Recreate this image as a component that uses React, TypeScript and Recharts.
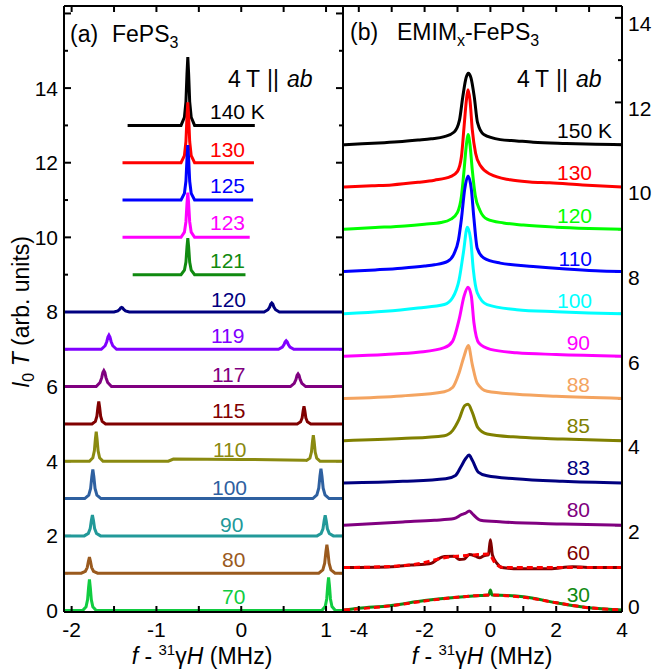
import { LineChart, Line, XAxis, YAxis, ReferenceLine } from "recharts";

type Pt = [number, number];

const FONT = "'Liberation Sans', Arial, sans-serif";

// (a) FePS3 — intensity above each baseline vs f - 31γH (MHz)
const a140: Pt[] = [[-1.34, 0], [-0.71, 0], [-0.67, 0.22], [-0.652, 0.64], [-0.64, 1.37], [-0.63, 1.83], [-0.62, 1.37], [-0.608, 0.64], [-0.59, 0.22], [-0.55, 0], [0.16, 0]];
const a130: Pt[] = [[-1.4, 0], [-0.71, 0], [-0.67, 0.19], [-0.652, 0.57], [-0.64, 1.22], [-0.63, 1.62], [-0.62, 1.22], [-0.608, 0.57], [-0.59, 0.19], [-0.55, 0], [0.15, 0]];
const a125: Pt[] = [[-1.4, 0], [-0.71, 0], [-0.67, 0.18], [-0.652, 0.51], [-0.64, 1.1], [-0.63, 1.47], [-0.62, 1.1], [-0.608, 0.51], [-0.59, 0.18], [-0.55, 0], [0.14, 0]];
const a123: Pt[] = [[-1.4, 0], [-0.71, 0], [-0.67, 0.14], [-0.652, 0.42], [-0.64, 0.9], [-0.63, 1.2], [-0.62, 0.9], [-0.608, 0.42], [-0.59, 0.14], [-0.55, 0], [0.1, 0]];
const a121: Pt[] = [[-1.28, 0], [-0.71, 0], [-0.67, 0.12], [-0.652, 0.34], [-0.64, 0.74], [-0.63, 0.98], [-0.62, 0.74], [-0.608, 0.34], [-0.59, 0.12], [-0.55, 0], [0.05, 0]];
const a120: Pt[] = [[-2.09, 0], [-1.5, 0], [-1.455, 0.03], [-1.435, 0.066], [-1.422, 0.106], [-1.41, 0.12], [-1.398, 0.106], [-1.385, 0.066], [-1.365, 0.03], [-1.32, 0], [0.27, 0], [0.315, 0.06], [0.335, 0.13], [0.348, 0.21], [0.36, 0.24], [0.372, 0.21], [0.385, 0.13], [0.405, 0.06], [0.45, 0], [1.2, 0]];
const a119: Pt[] = [[-2.09, 0], [-1.65, 0], [-1.605, 0.095], [-1.585, 0.21], [-1.572, 0.33], [-1.56, 0.38], [-1.548, 0.33], [-1.535, 0.21], [-1.515, 0.095], [-1.47, 0], [0.44, 0], [0.485, 0.06], [0.505, 0.13], [0.518, 0.2], [0.53, 0.23], [0.542, 0.2], [0.555, 0.13], [0.575, 0.06], [0.62, 0], [1.2, 0]];
const a117: Pt[] = [[-2.09, 0], [-1.71, 0], [-1.665, 0.11], [-1.645, 0.24], [-1.632, 0.38], [-1.62, 0.43], [-1.608, 0.38], [-1.595, 0.24], [-1.575, 0.11], [-1.53, 0], [0.58, 0], [0.625, 0.085], [0.645, 0.19], [0.658, 0.3], [0.67, 0.34], [0.682, 0.3], [0.695, 0.19], [0.715, 0.085], [0.76, 0], [1.2, 0]];
const a115: Pt[] = [[-2.09, 0], [-1.76, 0], [-1.72, 0.07], [-1.702, 0.21], [-1.69, 0.45], [-1.68, 0.6], [-1.67, 0.45], [-1.658, 0.21], [-1.64, 0.07], [-1.6, 0], [0.66, 0], [0.7, 0.056], [0.718, 0.16], [0.73, 0.35], [0.74, 0.47], [0.75, 0.35], [0.762, 0.16], [0.78, 0.056], [0.82, 0], [1.2, 0]];
const a110: Pt[] = [[-2.09, 0], [-1.79, 0], [-1.75, 0.095], [-1.732, 0.28], [-1.72, 0.59], [-1.71, 0.79], [-1.7, 0.59], [-1.688, 0.28], [-1.67, 0.095], [-1.63, 0], [-0.86, 0], [-0.8, 0.06], [0, 0.05], [0.74, 0.03], [0.77, 0.02], [0.81, 0.084], [0.828, 0.245], [0.84, 0.525], [0.85, 0.7], [0.86, 0.525], [0.872, 0.245], [0.89, 0.084], [0.93, 0], [1.2, 0]];
const a100: Pt[] = [[-2.09, 0], [-1.846, 0], [-1.798, 0.094], [-1.776, 0.27], [-1.762, 0.585], [-1.75, 0.78], [-1.738, 0.585], [-1.724, 0.27], [-1.702, 0.094], [-1.654, 0], [0.844, 0], [0.892, 0.096], [0.914, 0.28], [0.928, 0.6], [0.94, 0.8], [0.952, 0.6], [0.966, 0.28], [0.988, 0.096], [1.036, 0], [1.2, 0]];
const a90: Pt[] = [[-2.09, 0], [-1.851, 0], [-1.803, 0.067], [-1.781, 0.196], [-1.767, 0.42], [-1.755, 0.56], [-1.743, 0.42], [-1.729, 0.196], [-1.707, 0.067], [-1.659, 0], [0.894, 0], [0.942, 0.066], [0.964, 0.19], [0.978, 0.41], [0.99, 0.55], [1.002, 0.41], [1.016, 0.19], [1.038, 0.066], [1.086, 0], [1.2, 0]];
const a80: Pt[] = [[-2.09, 0], [-1.886, 0], [-1.838, 0.052], [-1.816, 0.15], [-1.802, 0.32], [-1.79, 0.43], [-1.778, 0.32], [-1.764, 0.15], [-1.742, 0.052], [-1.694, 0], [0.914, 0], [0.962, 0.09], [0.984, 0.27], [0.998, 0.57], [1.01, 0.76], [1.022, 0.57], [1.036, 0.27], [1.058, 0.09], [1.106, 0], [1.2, 0]];
const a70: Pt[] = [[-2.09, 0], [-1.87, 0], [-1.83, 0.1], [-1.812, 0.29], [-1.8, 0.62], [-1.79, 0.83], [-1.78, 0.62], [-1.768, 0.29], [-1.75, 0.1], [-1.71, 0], [0.95, 0], [0.99, 0.107], [1.008, 0.31], [1.02, 0.67], [1.03, 0.89], [1.04, 0.67], [1.052, 0.31], [1.07, 0.107], [1.11, 0], [1.2, 0]];

const leftSpectra = [a140, a130, a125, a123, a121, a120, a119, a117, a115, a110, a100, a90, a80, a70];
const leftLabels = ["140 K", "130", "125", "123", "121", "120", "119", "117", "115", "110", "100", "90", "80", "70"];
const leftOffsets = [13, 12, 11, 10, 9, 8, 7, 6, 5, 4, 3, 2, 1, 0];

// (b) EMIMx-FePS3
const b150: Pt[] = [[-4.45, 0], [-3.9, 0.02], [-3.4, 0.04], [-2.8, 0.07], [-2.2, 0.11], [-1.8, 0.14], [-1.4, 0.19], [-1.1, 0.3], [-0.94, 0.58], [-0.84, 1.13], [-0.74, 1.58], [-0.67, 1.69], [-0.59, 1.58], [-0.49, 1.13], [-0.39, 0.52], [-0.2, 0.24], [0.3, 0.12], [0.8, 0.09], [1.3, 0.06], [2.3, 0.03], [3.2, 0.01], [4, 0]];
const b130: Pt[] = [[-4.45, 0], [-3.6, 0.03], [-3.0, 0.05], [-2.2, 0.11], [-1.7, 0.16], [-1.2, 0.25], [-1.0, 0.37], [-0.88, 0.72], [-0.8, 1.43], [-0.73, 2.05], [-0.68, 2.3], [-0.62, 2.05], [-0.55, 1.35], [-0.45, 0.8], [-0.3, 0.5], [0, 0.3], [0.6, 0.17], [1.2, 0.12], [1.8, 0.1], [2.8, 0.05], [4, 0]];
const b120: Pt[] = [[-4.45, 0], [-3.5, 0.04], [-2.6, 0.08], [-2.0, 0.12], [-1.5, 0.16], [-1.2, 0.24], [-1.0, 0.4], [-0.88, 0.78], [-0.8, 1.4], [-0.73, 2.0], [-0.68, 2.24], [-0.62, 2.0], [-0.55, 1.4], [-0.46, 0.8], [-0.32, 0.45], [-0.1, 0.24], [0.4, 0.15], [1.0, 0.1], [2.0, 0.05], [3.0, 0.02], [4, 0]];
const b110: Pt[] = [[-4.45, 0], [-3.5, 0.04], [-2.7, 0.08], [-2.0, 0.13], [-1.7, 0.16], [-1.3, 0.24], [-1.1, 0.43], [-0.97, 0.75], [-0.88, 1.25], [-0.78, 1.95], [-0.68, 2.26], [-0.58, 1.95], [-0.5, 1.25], [-0.4, 0.55], [-0.2, 0.32], [0.3, 0.2], [1.3, 0.12], [2.3, 0.06], [3.2, 0.02], [4, 0]];
const b100: Pt[] = [[-4.45, 0], [-3.2, 0.06], [-2.2, 0.14], [-1.4, 0.22], [-1.15, 0.38], [-0.95, 0.81], [-0.82, 1.45], [-0.7, 2.05], [-0.6, 1.76], [-0.52, 1.05], [-0.4, 0.5], [-0.1, 0.22], [0.8, 0.1], [2, 0.05], [3, 0.02], [4, 0]];
const b90: Pt[] = [[-4.45, 0], [-3.2, 0.04], [-2.2, 0.09], [-1.4, 0.2], [-1.15, 0.35], [-0.95, 0.87], [-0.8, 1.42], [-0.68, 1.63], [-0.58, 1.42], [-0.5, 0.79], [-0.35, 0.31], [0, 0.16], [0.8, 0.08], [2, 0.04], [4, 0]];
const b88: Pt[] = [[-4.45, 0], [-2.7, 0.06], [-1.4, 0.16], [-1.15, 0.26], [-0.95, 0.61], [-0.8, 1.0], [-0.67, 1.25], [-0.55, 0.8], [-0.4, 0.36], [-0.1, 0.17], [0.8, 0.1], [2, 0.05], [4, 0]];
const b85: Pt[] = [[-4.45, 0], [-2.7, 0.05], [-1.4, 0.12], [-1.15, 0.24], [-0.95, 0.51], [-0.78, 0.83], [-0.68, 0.86], [-0.55, 0.67], [-0.38, 0.31], [-0.1, 0.16], [0.9, 0.08], [2.2, 0.04], [4, 0]];
const b83: Pt[] = [[-4.45, 0], [-2.66, 0.04], [-1.36, 0.1], [-1.06, 0.18], [-0.9, 0.38], [-0.75, 0.58], [-0.65, 0.66], [-0.55, 0.54], [-0.37, 0.26], [-0.1, 0.17], [0.76, 0.1], [2.2, 0.04], [4, 0]];
const b80: Pt[] = [[-4.45, 0], [-2.66, 0.08], [-1.7, 0.12], [-1.1, 0.16], [-0.88, 0.25], [-0.77, 0.28], [-0.64, 0.34], [-0.52, 0.25], [-0.3, 0.12], [0.36, 0.08], [2.2, 0.03], [4, 0]];
const b60: Pt[] = [[-4.45, 0], [-3.0, 0.02], [-2.4, 0.06], [-2.0, 0.08], [-1.8, 0.1], [-1.6, 0.2], [-1.4, 0.26], [-1.1, 0.27], [-0.94, 0.19], [-0.8, 0.2], [-0.64, 0.31], [-0.45, 0.27], [-0.33, 0.23], [-0.2, 0.28], [-0.06, 0.3], [0, 0.66], [0.06, 0.3], [0.2, 0.1], [0.35, 0], [0.88, -0.03], [1.8, -0.03], [2.5, 0.02], [3.2, 0], [4, 0]];
const b30: Pt[] = [[-4.45, 0], [-4, 0.04], [-3.06, 0.1], [-2, 0.22], [-1, 0.3], [-0.3, 0.34], [-0.05, 0.35], [0, 0.47], [0.05, 0.35], [0.5, 0.34], [1, 0.31], [2, 0.17], [2.7, 0.08], [3.5, 0.02], [4, 0]];
const b60fit: Pt[] = [[-4.45, 0], [-3, 0.03], [-2, 0.12], [-1.5, 0.22], [-1, 0.27], [-0.5, 0.3], [-0.05, 0.32], [0.15, 0.1], [0.4, 0], [4, 0]];
const b30fit: Pt[] = [[-4.45, 0], [-3, 0.1], [-2, 0.21], [-1, 0.3], [0, 0.35], [1, 0.3], [2, 0.17], [3, 0.05], [4, 0]];

const rightSpectra = [b150, b130, b120, b110, b100, b90, b88, b85, b83, b80, b60, b30];
const rightFits: (Pt[] | null)[] = [null, null, null, null, null, null, null, null, null, null, b60fit, b30fit];
const rightLabels = ["150 K", "130", "120", "110", "100", "90", "88", "85", "83", "80", "60", "30"];
const rightOffsets = [11, 10, 9, 8, 7, 6, 5, 4, 3, 2, 1, 0];

// ticks: every entry gets an inward mark, only the labelled ones get text
const leftXTicks = [-2, -1.5, -1, -0.5, 0, 0.5, 1];
const leftXLabels = [-2, -1, 0, 1];
const leftYTicks = [0, 1, 2, 3, 4, 5, 6, 7, 8, 9, 10, 11, 12, 13, 14, 15, 16];
const leftYLabels = [0, 2, 4, 6, 8, 10, 12, 14];
const rightXTicks = [-4, -3, -2, -1, 0, 1, 2, 3, 4];
const rightXLabels = [-4, -2, 0, 2, 4];
const rightYTicks = [0, 1, 2, 3, 4, 5, 6, 7, 8, 9, 10, 11, 12, 13, 14];
const rightYLabels = [0, 2, 4, 6, 8, 10, 12, 14];

// styling
const leftColors = ["#000000", "#ff0000", "#0000ff", "#ff00ff", "#108a10", "#000080", "#8000ff", "#800080", "#800000", "#8a8a10", "#2e60a0", "#229999", "#9a5a1e", "#10cc40"];
const rightColors = ["#000000", "#ff0000", "#00ff00", "#0000ff", "#00ffff", "#ff00ff", "#f4a460", "#808000", "#000080", "#800080", "#800000", "#108a10"];
const leftLabelPos: Pt[] = [[210, 119], [210, 157], [210, 193], [210, 230], [210, 268], [211, 307], [211, 343], [212, 382], [212, 418], [213, 457], [212, 495], [220, 532], [222, 567], [222, 604]];
const rightLabelPos: Pt[] = [[612, 138], [592, 180], [592, 223], [592, 266], [592, 308], [590, 350], [590, 392], [590, 433], [590, 475], [590, 517], [590, 560], [590, 602]];

const LX: [number, number] = [-2.09, 1.2];
const LY: [number, number] = [-0.04, 16.2];
const RX: [number, number] = [-4.48, 4];
const RY: [number, number] = [-0.05, 14.28];
// pixels per data unit, used to turn tick-mark lengths into data units
const L_PX: Pt = [84.8, 37.32];
const R_PX: Pt = [32.9, 42.29];

const axisLine = { stroke: "#000", strokeWidth: 2 };
const tickLine = { stroke: "#000", strokeWidth: 2 };
const tickFont = { fill: "#000", fontSize: 21, fontFamily: FONT };
const blank = () => "";

function labelIf(list: number[]) {
  return (v: number) => (list.includes(v) ? String(v) : "");
}

function rows(pts: Pt[], offset: number) {
  return pts.map(([f, v]) => ({ f, v: v + offset }));
}

// inward frame ticks on the left, right and top edges, as short reference segments
function frameTicks(xd: [number, number], yd: [number, number], xt: number[], yt: number[], px: Pt, leftSide: boolean, key: string) {
  const out: JSX.Element[] = [];
  const seg = (id: string, a: Pt, b: Pt) => (
    <ReferenceLine
      key={key + id}
      xAxisId="x"
      yAxisId="y"
      ifOverflow="visible"
      stroke="#000"
      strokeWidth={2}
      segment={[{ x: a[0], y: a[1] }, { x: b[0], y: b[1] }]}
    />
  );
  yt.forEach((v) => {
    const len = (v % 2 === 0 ? 7 : 4) / px[0];
    if (leftSide) out.push(seg("l" + v, [xd[0], v], [xd[0] + len, v]));
    out.push(seg("r" + v, [xd[1] - len, v], [xd[1], v]));
  });
  xt.forEach((v) => {
    out.push(seg("t" + v, [v, yd[1]], [v, yd[1] - 6 / px[1]]));
  });
  return out;
}

function RightTick(props: any) {
  const { x, y, payload } = props;
  if (!rightYLabels.includes(payload.value)) return <g />;
  const shift = payload.value === 0 ? -3 : 6;
  return (
    <text x={x} y={y + shift} dy="0.355em" textAnchor="start" fill="#000" fontSize={21} fontFamily={FONT}>
      {payload.value}
    </text>
  );
}

function LeftPanel() {
  return (
    <LineChart width={350} height={671} margin={{ top: 5, right: 6, left: 24, bottom: 19 }}>
      <XAxis xAxisId="x" dataKey="f" type="number" domain={LX} allowDataOverflow ticks={leftXTicks} interval={0} height={40}
        tickSize={-6} tickMargin={16} tickLine={tickLine} axisLine={axisLine} tick={tickFont} tickFormatter={labelIf(leftXLabels)} />
      <XAxis xAxisId="xt" orientation="top" type="number" domain={LX} allowDataOverflow ticks={leftXTicks} interval={0} height={1}
        tickSize={0} tickLine={false} axisLine={axisLine} tick={tickFont} tickFormatter={blank} />
      <YAxis yAxisId="y" type="number" domain={LY} allowDataOverflow ticks={leftYTicks} interval={0} width={40}
        tickSize={0} tickMargin={6} tickLine={false} axisLine={axisLine} tick={tickFont} tickFormatter={labelIf(leftYLabels)} />
      <YAxis yAxisId="yr" orientation="right" type="number" domain={LY} allowDataOverflow ticks={leftYTicks} interval={0} width={1}
        tickSize={0} tickLine={false} axisLine={axisLine} tick={tickFont} tickFormatter={blank} />
      {frameTicks(LX, LY, leftXTicks, leftYTicks, L_PX, true, "L")}
      {leftSpectra.map((pts, i) => (
        <Line
          key={leftLabels[i]}
          xAxisId="x"
          yAxisId="y"
          data={rows(pts, leftOffsets[i])}
          dataKey="v"
          type="linear"
          stroke={leftColors[i]}
          strokeWidth={3}
          dot={false}
          isAnimationActive={false}
        />
      ))}
    </LineChart>
  );
}

function RightPanel() {
  const series: JSX.Element[] = [];
  rightSpectra.forEach((pts, i) => {
    series.push(
      <Line
        key={"s" + i}
        xAxisId="x"
        yAxisId="y"
        data={rows(pts, rightOffsets[i])}
        dataKey="v"
        type="monotone"
        stroke={rightColors[i]}
        strokeWidth={3}
        dot={false}
        isAnimationActive={false}
      />
    );
    const fit = rightFits[i];
    if (fit) {
      series.push(
        <Line
          key={"f" + i}
          xAxisId="x"
          yAxisId="y"
          data={rows(fit, rightOffsets[i])}
          dataKey="v"
          type="monotone"
          stroke="#ff0000"
          strokeWidth={3}
          strokeDasharray="6 4"
          dot={false}
          isAnimationActive={false}
        />
      );
    }
  });
  return (
    <LineChart width={354} height={671} margin={{ top: 5, right: 0, left: 42, bottom: 19 }}>
      <XAxis xAxisId="x" dataKey="f" type="number" domain={RX} allowDataOverflow ticks={rightXTicks} interval={0} height={40}
        tickSize={-6} tickMargin={16} tickLine={tickLine} axisLine={axisLine} tick={tickFont} tickFormatter={labelIf(rightXLabels)} />
      <XAxis xAxisId="xt" orientation="top" type="number" domain={RX} allowDataOverflow ticks={rightXTicks} interval={0} height={1}
        tickSize={0} tickLine={false} axisLine={axisLine} tick={tickFont} tickFormatter={blank} />
      <YAxis yAxisId="y" orientation="right" type="number" domain={RY} allowDataOverflow ticks={rightYTicks} interval={0} width={32}
        tickSize={0} tickMargin={6} tickLine={false} axisLine={axisLine} tick={<RightTick />} />
      <YAxis yAxisId="yl" type="number" domain={RY} allowDataOverflow ticks={rightYTicks} interval={0} width={1}
        tickSize={0} tickLine={false} axisLine={axisLine} tick={tickFont} tickFormatter={blank} />
      {frameTicks(RX, RY, rightXTicks, rightYTicks, R_PX, false, "R")}
      {series}
    </LineChart>
  );
}

function Texts() {
  const t = { fontFamily: FONT, fill: "#000" };
  return (
    <svg width={654} height={671} style={{ position: "absolute", left: 0, top: 0, pointerEvents: "none" }}>
      <g {...t} fontSize={23}>
        <text x={70} y={42}>(a)</text>
        <text x={112} y={42}>FePS<tspan fontSize={16} dy={6}>3</tspan></text>
        <text x={228} y={87}>4</text>
        <text x={246} y={87}>T</text>
        <text x={267} y={87}>||</text>
        <text x={287} y={87} fontStyle="italic">ab</text>

        <text x={350} y={40}>(b)</text>
        <text x={397} y={40}>EMIM<tspan fontSize={16} dy={6}>x</tspan><tspan dy={-6}>-FePS</tspan><tspan fontSize={16} dy={6}>3</tspan></text>
        <text x={517} y={87}>4</text>
        <text x={535} y={87}>T</text>
        <text x={556} y={87}>||</text>
        <text x={576} y={87} fontStyle="italic">ab</text>

        <text x={202} y={664} textAnchor="middle">
          <tspan fontStyle="italic">f</tspan> - <tspan fontSize={15} dy={-9}>31</tspan><tspan dy={9}>γ</tspan><tspan fontStyle="italic">H</tspan> (MHz)
        </text>
        <text x={482} y={664} textAnchor="middle">
          <tspan fontStyle="italic">f</tspan> - <tspan fontSize={15} dy={-9}>31</tspan><tspan dy={9}>γ</tspan><tspan fontStyle="italic">H</tspan> (MHz)
        </text>
        <text x={29} y={312} textAnchor="middle" transform="rotate(-90 29 312)">
          <tspan fontStyle="italic">I</tspan><tspan fontSize={16} dy={5}>0</tspan><tspan dy={-5}> </tspan><tspan fontStyle="italic">T</tspan> (arb. units)
        </text>
      </g>
      <g fontFamily={FONT} fontSize={21}>
        {leftLabels.map((s, i) => (
          <text key={"l" + i} x={leftLabelPos[i][0]} y={leftLabelPos[i][1]} fill={leftColors[i]}>{s}</text>
        ))}
        {rightLabels.map((s, i) => (
          <text key={"r" + i} x={rightLabelPos[i][0]} y={rightLabelPos[i][1]} fill={rightColors[i]} textAnchor="end">{s}</text>
        ))}
      </g>
    </svg>
  );
}

export default function App() {
  return (
    <div style={{ position: "absolute", left: 0, top: 0, width: 654, height: 671, background: "#fff", fontFamily: FONT }}>
      <div style={{ position: "absolute", left: 0, top: 0 }}>
        <LeftPanel />
      </div>
      <div style={{ position: "absolute", left: 300, top: 0 }}>
        <RightPanel />
      </div>
      <Texts />
    </div>
  );
}
